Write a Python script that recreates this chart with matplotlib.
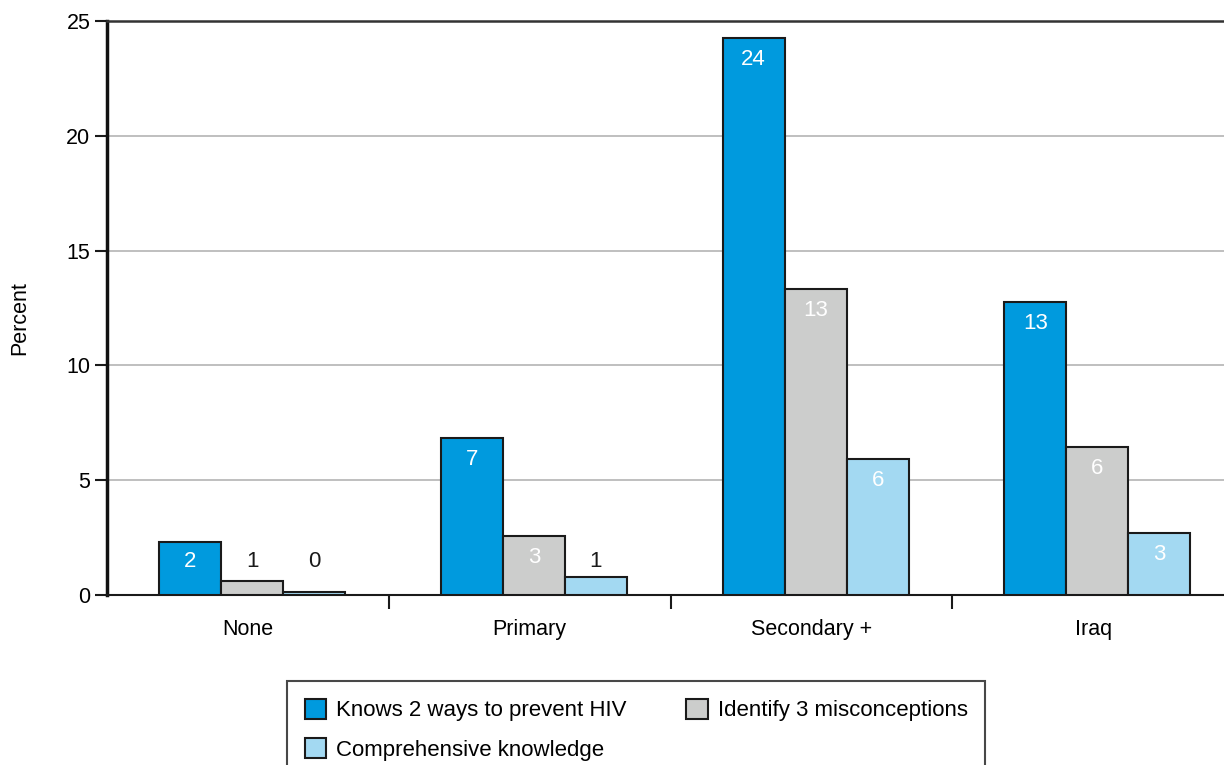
import numpy as np
import matplotlib
matplotlib.use("Agg")
import matplotlib.pyplot as plt

plt.rcParams['font.family'] = ['Liberation Sans', 'DejaVu Sans']

categories = ["None", "Primary", "Secondary +", "Iraq"]
series = ["Knows 2 ways to prevent HIV", "Identify 3 misconceptions", "Comprehensive knowledge"]
knows = [2.31, 6.84, 24.26, 12.76]
misconc = [0.61, 2.57, 13.33, 6.45]
compr = [0.15, 0.78, 5.92, 2.70]
colors = ["#009ADE", "#CCCDCC", "#A3D9F2"]

fig = plt.figure(figsize=(12.24, 7.65), dpi=100)
ax = fig.add_axes([107/1224, 1-595/765, 1127/1224, 574/765])

x = np.arange(len(categories))
w = 0.22
handles = []
for i, (vals, name, c) in enumerate(zip([knows, misconc, compr], series, colors)):
    xs = x + (i - 1) * w + 0.015
    b = ax.bar(xs, vals, w, color=c, edgecolor="#1a1a1a", linewidth=1.5, label=name, zorder=3)
    handles.append(b)
    for xi, v in zip(xs, vals):
        if v > 2:
            ax.text(xi, max(v - 0.95, 1.45), f"{v:.0f}", ha="center", va="center",
                    color="white", fontsize=16, zorder=4)
        else:
            ax.text(xi, 1.45, f"{v:.0f}", ha="center", va="center",
                    color="#1a1a1a", fontsize=16, zorder=4)

ax.set_xlim(-0.5, 3.5)
ax.set_ylim(0, 25)
ax.set_yticks([0, 5, 10, 15, 20, 25])
ax.yaxis.grid(True, color="#b4b4b4", linewidth=1.2, zorder=0)
ax.set_axisbelow(True)

ax.set_xticks([0.5, 1.5, 2.5])
ax.set_xticklabels([])
ax.set_xticks(x, minor=True)
ax.set_xticklabels(categories, minor=True, fontsize=15.5)
ax.tick_params(axis="x", which="major", length=10, width=1.5, color="#1a1a1a")
ax.tick_params(axis="x", which="minor", length=0, pad=17)
ax.tick_params(axis="y", length=9, width=1.5, labelsize=15.5, pad=3, color="#1a1a1a")

ax.spines["right"].set_visible(False)
ax.spines["top"].set_color("#333333")
ax.spines["top"].set_linewidth(1.8)
ax.spines["left"].set_linewidth(2.5)
ax.spines["left"].set_color("#111111")
ax.spines["bottom"].set_linewidth(1.5)
ax.spines["bottom"].set_color("#1a1a1a")

fig.text(20/1224, 1-318/765, "Percent", rotation=90, ha="center", va="center", fontsize=15.5)

order = [0, 2, 1]
leg = fig.legend([handles[k] for k in order], [series[k] for k in order],
                 loc="upper left", bbox_to_anchor=(287/1224, 1-681/765), ncol=2,
                 fontsize=16, frameon=True, fancybox=False, handlelength=0.95,
                 handleheight=1.0, handletextpad=0.45, columnspacing=2.7,
                 borderpad=0.8, labelspacing=0.75, borderaxespad=0)
leg.get_frame().set_edgecolor("#1a1a1a")
leg.get_frame().set_linewidth(1.5)

fig.savefig("out.png", dpi=100)
